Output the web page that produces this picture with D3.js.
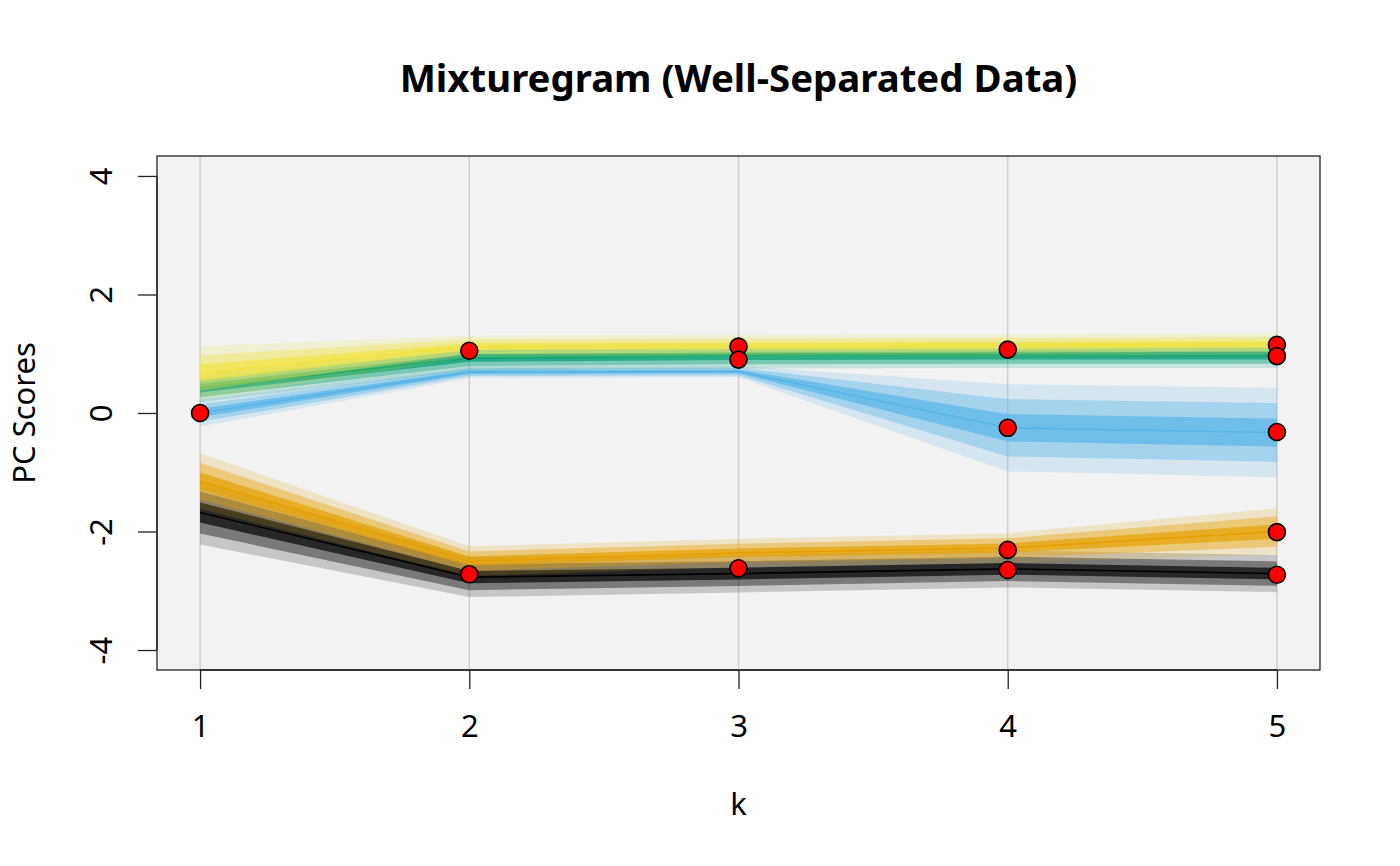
<!DOCTYPE html>
<html>
<head>
<meta charset="utf-8">
<script src="https://cdn.jsdelivr.net/npm/d3@7"></script>
<style>
  body { margin: 0; background: #ffffff; }
  text { font-family: "Noto Sans", "Open Sans", sans-serif; fill: #000; }
</style>
</head>
<body>
<svg id="chart" width="1400" height="866"></svg>
<script>
// number of clusters on the x axis
var kValues = [1, 2, 3, 4, 5];
var xTicks = [1, 2, 3, 4, 5];
var yTicks = [-4, -2, 0, 2, 4];

// group centre lines (PC score) and band spread
var groupNames = ["black", "orange", "blue", "green", "yellow"];
var groupColors = ["#000000", "#E69F00", "#56B4E9", "#009E73", "#F0E442"];

var blackMean = [-1.68, -2.77, -2.71, -2.63, -2.71];
var blackSpread = [0.169, 0.105, 0.1, 0.098, 0.098];
var orangeMean = [-1.15, -2.5, -2.36, -2.28, -2.0];
var orangeSpread = [0.147, 0.078, 0.074, 0.079, 0.122];
var blueMean = [0.0, 0.69, 0.7, -0.25, -0.33];
var blueSpread = [0.071, 0.032, 0.03, 0.23, 0.236];
var greenMean = [0.42, 0.93, 0.96, 0.97, 0.97];
var greenSpread = [0.074, 0.066, 0.066, 0.066, 0.066];
var yellowMean = [0.68, 1.12, 1.13, 1.14, 1.16];
var yellowSpread = [0.14, 0.059, 0.059, 0.059, 0.059];

// cluster means (red points)
var pointK = [1, 2, 2, 3, 3, 3, 4, 4, 4, 4, 5, 5, 5, 5, 5];
var pointScore = [0.0, 1.05, -2.72, 1.12, 0.9, -2.62, 1.07, -0.25, -2.31, -2.65, 1.15, 0.96, -0.32, -2.01, -2.73];

var groupMeans = [blackMean, orangeMean, blueMean, greenMean, yellowMean];
var groupSpreads = [blackSpread, orangeSpread, blueSpread, greenSpread, yellowSpread];

// nested bands: widest first
var bandLevels = [
  { mult: 3.2, opacity: 0.18 },
  { mult: 2.1, opacity: 0.39 },
  { mult: 1.0, opacity: 0.68 },
];

var svg = d3.select("#chart"),
  plot = { left: 157, right: 1320, top: 156, bottom: 670 };

var xScale = d3.scaleLinear().domain([0.84, 5.16]).range([plot.left, plot.right]);
var yScale = d3.scaleLinear().domain([-4.337, 4.337]).range([plot.bottom, plot.top]);

// plot background
svg
  .append("rect")
  .attr("x", plot.left)
  .attr("y", plot.top)
  .attr("width", plot.right - plot.left)
  .attr("height", plot.bottom - plot.top)
  .attr("fill", "#f2f2f2");

// vertical grid
svg
  .append("g")
  .selectAll("line")
  .data(xTicks)
  .enter()
  .append("line")
  .attr("x1", function (d) { return xScale(d); })
  .attr("x2", function (d) { return xScale(d); })
  .attr("y1", plot.top)
  .attr("y2", plot.bottom)
  .attr("stroke", "#cfcfcf")
  .attr("stroke-width", 1.5);

var clip = svg.append("defs").append("clipPath").attr("id", "plotClip");
clip
  .append("rect")
  .attr("x", plot.left)
  .attr("y", plot.top)
  .attr("width", plot.right - plot.left)
  .attr("height", plot.bottom - plot.top);

var bandsG = svg.append("g").attr("clip-path", "url(#plotClip)");

groupNames.forEach(function (name, gi) {
  var rows = kValues.map(function (k, i) {
    return { k: k, mean: groupMeans[gi][i], spread: groupSpreads[gi][i] };
  });
  var g = bandsG.append("g").attr("class", "group-" + name);

  bandLevels.forEach(function (lvl) {
    var area = d3
      .area()
      .x(function (d) { return xScale(d.k); })
      .y0(function (d) { return yScale(d.mean - lvl.mult * d.spread); })
      .y1(function (d) { return yScale(d.mean + lvl.mult * d.spread); });
    g.append("path")
      .datum(rows)
      .attr("fill", groupColors[gi])
      .attr("fill-opacity", lvl.opacity)
      .attr("d", area);
  });

  var line = d3
    .line()
    .x(function (d) { return xScale(d.k); })
    .y(function (d) { return yScale(d.mean); });
  g.append("path")
    .datum(rows)
    .attr("fill", "none")
    .attr("stroke", groupColors[gi])
    .attr("stroke-width", 1.6)
    .attr("d", line);
});

// cluster mean points
svg
  .append("g")
  .selectAll("circle")
  .data(pointK)
  .enter()
  .append("circle")
  .attr("cx", function (d) { return xScale(d); })
  .attr("cy", function (d, i) { return yScale(pointScore[i]); })
  .attr("r", 8.5)
  .attr("fill", "#ff0000")
  .attr("stroke", "#000")
  .attr("stroke-width", 1.6);

// box
svg
  .append("rect")
  .attr("x", plot.left)
  .attr("y", plot.top)
  .attr("width", plot.right - plot.left)
  .attr("height", plot.bottom - plot.top)
  .attr("fill", "none")
  .attr("stroke", "#222")
  .attr("stroke-width", 1.3);

// plain hyphen for negatives, like the original
var plainFormat = function (d) { return String(d); };

// x axis
var xAxis = d3.axisBottom(xScale).tickValues(xTicks).tickSize(19).tickPadding(26).tickFormat(plainFormat);
var xg = svg.append("g").attr("transform", "translate(0," + plot.bottom + ")").call(xAxis);
xg.select(".domain").attr("d", "M" + xScale(1) + ",0H" + xScale(5)).attr("stroke", "#222").attr("stroke-width", 1.3);
xg.selectAll(".tick line").attr("stroke", "#222").attr("stroke-width", 1.3);
xg.selectAll(".tick text")
  .style("font-family", "Noto Sans")
  .style("font-size", "31px")
  .attr("fill", "#000");

// y axis
var yAxis = d3.axisLeft(yScale).tickValues(yTicks).tickSize(19).tickFormat(plainFormat);
var yg = svg.append("g").attr("transform", "translate(" + plot.left + ",0)").call(yAxis);
yg.select(".domain").attr("d", "M0," + yScale(-4) + "V" + yScale(4)).attr("stroke", "#222").attr("stroke-width", 1.3);
yg.selectAll(".tick line").attr("stroke", "#222").attr("stroke-width", 1.3);
yg.selectAll(".tick text")
  .style("font-family", "Noto Sans")
  .style("font-size", "31px")
  .attr("fill", "#000")
  .attr("x", 0)
  .attr("dy", 0)
  .attr("text-anchor", "middle")
  .attr("transform", "translate(-45,0) rotate(-90)");

// titles
svg
  .append("text")
  .attr("x", (plot.left + plot.right) / 2)
  .attr("y", 92)
  .attr("text-anchor", "middle")
  .style("font-size", "38.4px")
  .style("font-weight", "bold")
  .text("Mixturegram (Well-Separated Data)");

svg
  .append("text")
  .attr("x", (plot.left + plot.right) / 2)
  .attr("y", 815)
  .attr("text-anchor", "middle")
  .style("font-size", "31px")
  .text("k");

svg
  .append("text")
  .attr("transform", "translate(35," + yScale(0) + ") rotate(-90)")
  .attr("text-anchor", "middle")
  .style("font-size", "31px")
  .text("PC Scores");
</script>
</body>
</html>
